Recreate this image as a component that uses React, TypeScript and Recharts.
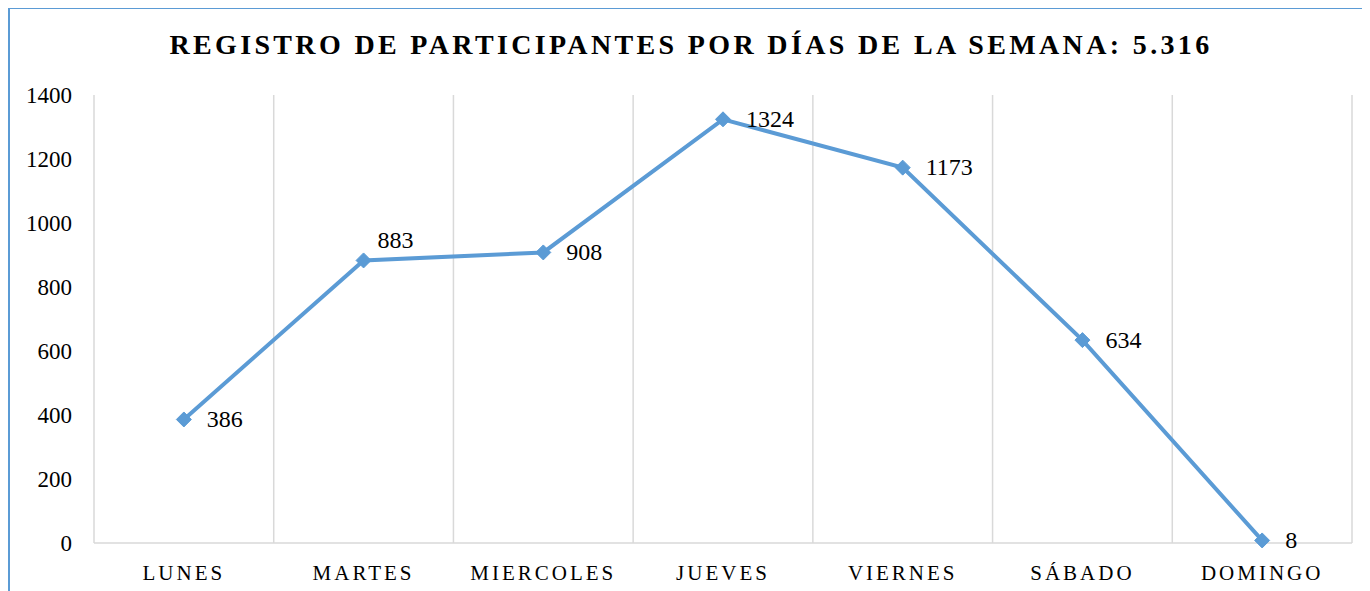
import { LineChart, Line, XAxis, YAxis, ReferenceLine, LabelList } from 'recharts';

const TITLE = 'REGISTRO DE PARTICIPANTES POR DÍAS DE LA SEMANA: 5.316';
const DAYS = ['LUNES', 'MARTES', 'MIERCOLES', 'JUEVES', 'VIERNES', 'SÁBADO', 'DOMINGO'];
const PARTICIPANTS = [386, 883, 908, 1324, 1173, 634, 8];
const Y_TICKS = [0, 200, 400, 600, 800, 1000, 1200, 1400];

const FONT = "'Liberation Serif', 'Times New Roman', serif";
const BLUE = '#5B9BD5';
const GRID = '#d9d9d9';

const data = DAYS.map((d, i) => ({ day: d, value: PARTICIPANTS[i] }));

function Diamond(props: any) {
  const { cx, cy } = props;
  if (cx == null || cy == null) return null;
  const r = 7.5;
  return <path d={`M${cx},${cy - r}L${cx + r},${cy}L${cx},${cy + r}L${cx - r},${cy}Z`} fill={BLUE} stroke={BLUE} />;
}

function PointLabel(props: any) {
  const { x, y, value, index } = props;
  // the MARTES label sits above-right of its marker, the rest to the right
  const lifted = index === 1;
  return (
    <text x={x + (lifted ? 14 : 23)} y={y + (lifted ? -18 : 2)} dominantBaseline="middle"
          style={{ fontFamily: FONT }} fontSize={24} fill="#000">{value}</text>
  );
}

export default function App() {
  return (
    <div style={{ position: 'relative', width: 1362, height: 583, boxSizing: 'border-box',
                  borderLeft: `2px solid ${BLUE}`, borderTop: `1.5px solid ${BLUE}`, background: '#fff' }}>
      <div style={{ position: 'absolute', left: -4, top: 20, width: 1370, textAlign: 'center',
                    fontFamily: FONT, fontWeight: 'bold', fontSize: 28, letterSpacing: 3.35, color: '#000' }}>
        {TITLE}
      </div>
      <div style={{ position: 'absolute', left: -2, top: -1.5 }}>
        <LineChart width={1362} height={583} data={data}
                   margin={{ top: 87, right: 18, bottom: 0, left: 0 }}>
          <XAxis dataKey="day" type="category" scale="band" axisLine={{ stroke: GRID, strokeWidth: 1.5 }} tickLine={false}
                 tickMargin={16} height={48} interval={0}
                 tick={{ style: { fontFamily: FONT }, fontSize: 21, fill: '#000', letterSpacing: 3 }} />
          <YAxis domain={[0, 1400]} ticks={Y_TICKS} axisLine={false} tickLine={false} tickSize={0}
                 tickMargin={22} width={86} interval={0}
                 tick={{ style: { fontFamily: FONT }, fontSize: 23, fill: '#000' }} />
          {DAYS.map((d) => (
            <ReferenceLine key={d} x={d} position="start" stroke={GRID} strokeWidth={1.5} />
          ))}
          <ReferenceLine x={DAYS[DAYS.length - 1]} position="end" stroke={GRID} strokeWidth={1.5} />
          <Line dataKey="value" stroke={BLUE} strokeWidth={4} dot={<Diamond />} activeDot={false}
                isAnimationActive={false}>
            <LabelList dataKey="value" content={<PointLabel />} />
          </Line>
        </LineChart>
      </div>
    </div>
  );
}
